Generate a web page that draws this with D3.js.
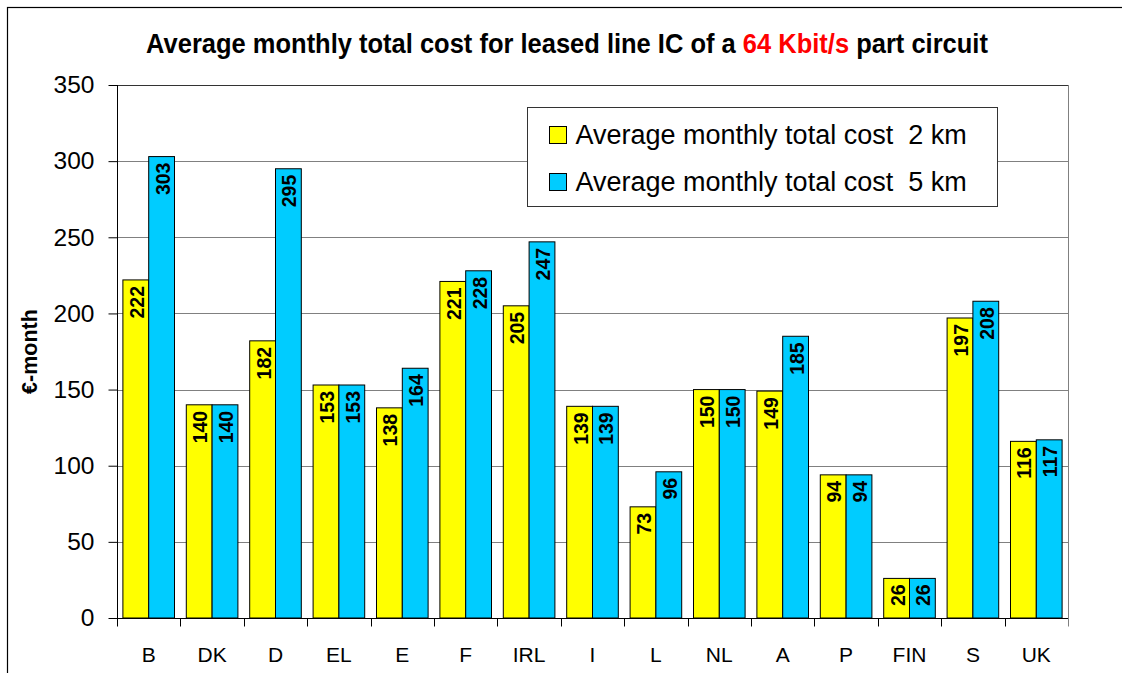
<!DOCTYPE html>
<html>
<head>
<meta charset="utf-8">
<script src="https://cdn.jsdelivr.net/npm/d3@7"></script>
<style>
  body { margin: 0; background: #fff; }
  svg { display: block; font-family: "Liberation Sans", Arial, sans-serif; }
</style>
</head>
<body>
<div id="chart"></div>
<script>
// data
const countries = ["B", "DK", "D", "EL", "E", "F", "IRL", "I", "L", "NL", "A", "P", "FIN", "S", "UK"];
const cost2km = [222, 140, 182, 153, 138, 221, 205, 139, 73, 150, 149, 94, 26, 197, 116];
const cost5km = [303, 140, 295, 153, 164, 228, 247, 139, 96, 150, 185, 94, 26, 208, 117];
const seriesNames = ["Average monthly total cost  2 km", "Average monthly total cost  5 km"];
const seriesColors = ["#ffff00", "#00ccff"];
const yTicks = [0, 50, 100, 150, 200, 250, 300, 350];

const width = 1122, height = 673;
const margin = { top: 85, right: 54, bottom: 55, left: 117 };

const svg = d3.select("#chart")
  .append("svg")
  .attr("width", width)
  .attr("height", height);

// outer chart frame (runs off the right and bottom edges)
svg.append("rect")
  .attr("x", 7.5).attr("y", 7.5)
  .attr("width", 1300).attr("height", 900)
  .attr("fill", "none")
  .attr("stroke", "#000")
  .attr("stroke-width", 1.2);

const x0 = d3.scaleBand()
  .domain(countries)
  .range([margin.left, width - margin.right])
  .paddingInner(0.186)
  .paddingOuter(0.093);

const x1 = d3.scaleBand()
  .domain([0, 1])
  .range([0, x0.bandwidth()]);

const y = d3.scaleLinear()
  .domain([0, 350])
  .range([height - margin.bottom, margin.top]);

const plotLeft = margin.left, plotRight = width - margin.right;
const plotTop = margin.top, plotBottom = height - margin.bottom;

// gridlines
svg.append("g")
  .selectAll("line")
  .data(yTicks.slice(1))
  .enter()
  .append("line")
  .attr("x1", plotLeft).attr("x2", plotRight)
  .attr("y1", d => Math.round(y(d)) + 0.5)
  .attr("y2", d => Math.round(y(d)) + 0.5)
  .attr("stroke", "#808080")
  .attr("stroke-width", 1);

// right border of plot area
svg.append("line")
  .attr("x1", plotRight + 0.5).attr("x2", plotRight + 0.5)
  .attr("y1", plotTop).attr("y2", plotBottom + 8)
  .attr("stroke", "#808080");

// top border a bit darker
svg.append("line")
  .attr("x1", plotLeft).attr("x2", plotRight)
  .attr("y1", Math.round(y(350)) + 0.5).attr("y2", Math.round(y(350)) + 0.5)
  .attr("stroke", "#333");

// bars
const series = [cost2km, cost5km];
const groups = svg.append("g")
  .selectAll("g")
  .data(countries)
  .enter()
  .append("g")
  .attr("transform", d => `translate(${x0(d)},0)`);

groups.selectAll("rect")
  .data((c, i) => series.map((s, k) => ({ k: k, v: s[i] })))
  .enter()
  .append("rect")
  .attr("x", d => x1(d.k))
  .attr("y", d => y(d.v))
  .attr("width", x1.bandwidth())
  .attr("height", d => y(0) - y(d.v))
  .attr("fill", d => seriesColors[d.k])
  .attr("stroke", "#000")
  .attr("stroke-width", 1);

// value labels, rotated inside the top of each bar
groups.selectAll("text")
  .data((c, i) => series.map((s, k) => ({ k: k, v: s[i] })))
  .enter()
  .append("text")
  .attr("transform", d => `translate(${x1(d.k) + x1.bandwidth() / 2 + 1},${y(d.v) + 6}) rotate(-90)`)
  .attr("text-anchor", "end")
  .attr("dominant-baseline", "central")
  .attr("font-size", 19.5)
  .attr("font-weight", "bold")
  .attr("fill", "#000")
  .text(d => d.v);

// y axis
const yAxis = svg.append("g")
  .attr("transform", `translate(${plotLeft + 0.5},0)`)
  .call(d3.axisLeft(y).tickValues(yTicks).tickSize(9).tickPadding(14));
yAxis.select(".domain").attr("stroke", "#000").attr("d", `M0,${plotTop}V${plotBottom}`);
yAxis.selectAll(".tick line").attr("stroke", "#000");
yAxis.selectAll(".tick text")
  .attr("font-size", 24.5)
  .attr("font-family", "Liberation Sans, Arial, sans-serif")
  .attr("fill", "#000");

// x axis with ticks at category boundaries
const xAxis = svg.append("g")
  .attr("transform", `translate(0,${Math.round(plotBottom) + 0.5})`);
xAxis.append("line")
  .attr("x1", plotLeft).attr("x2", plotRight)
  .attr("stroke", "#000");
const step = x0.step();
xAxis.selectAll(".xtick")
  .data(d3.range(countries.length + 1))
  .enter()
  .append("line")
  .attr("x1", i => Math.round(plotLeft + i * step) + 0.5)
  .attr("x2", i => Math.round(plotLeft + i * step) + 0.5)
  .attr("y1", 0).attr("y2", 8)
  .attr("stroke", i => i === countries.length ? "#808080" : "#000");
xAxis.selectAll(".xlabel")
  .data(countries)
  .enter()
  .append("text")
  .attr("x", d => x0(d) + x0.bandwidth() / 2)
  .attr("y", 43)
  .attr("text-anchor", "middle")
  .attr("font-size", 21)
  .attr("fill", "#000")
  .text(d => d);

// y axis title
svg.append("text")
  .attr("transform", `translate(37,${(plotTop + plotBottom) / 2}) rotate(-90)`)
  .attr("text-anchor", "middle")
  .attr("font-size", 21.5)
  .attr("font-weight", "bold")
  .text("€-month");

// title
const title = svg.append("text")
  .attr("x", 567)
  .attr("y", 53)
  .attr("text-anchor", "middle")
  .attr("font-family", "'Liberation Sans Narrow', 'Arial Narrow', 'Liberation Sans', sans-serif")
  .attr("font-size", 27)
  .attr("font-weight", "bold");
title.append("tspan").text("Average monthly total cost for leased line IC of a ");
title.append("tspan").attr("fill", "#ff0000").text("64 Kbit/s");
title.append("tspan").text(" part circuit");
// squeeze / stretch to the width seen in the reference
const tw = title.node().getComputedTextLength();
const targetW = 842;
title.attr("transform", `translate(567,0) scale(${targetW / tw},1) translate(-567,0)`);

// legend
const legend = svg.append("g").attr("transform", "translate(527.5,107.5)");
legend.append("rect")
  .attr("width", 470).attr("height", 99)
  .attr("fill", "#fff")
  .attr("stroke", "#333")
  .attr("stroke-width", 1);
const items = legend.selectAll(".item")
  .data(seriesNames)
  .enter()
  .append("g")
  .attr("transform", (d, i) => `translate(22,${19 + i * 47})`);
items.append("rect")
  .attr("width", 17).attr("height", 17)
  .attr("fill", (d, i) => seriesColors[i])
  .attr("stroke", "#000");
items.append("text")
  .attr("x", 26)
  .attr("y", 17)
  .attr("font-size", 27)
  .style("white-space", "pre")
  .text(d => d);
</script>
</body>
</html>
